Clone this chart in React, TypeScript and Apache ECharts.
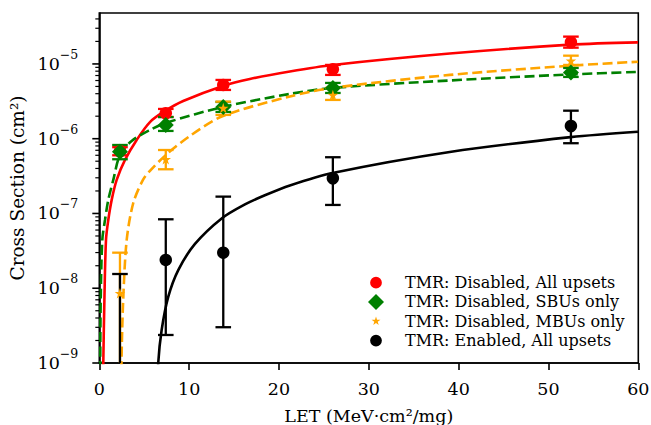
import React, { useEffect, useRef } from 'react';
import * as echarts from 'echarts';

const FONT = 'DejaVu Serif';

// Measured LET values (MeV·cm²/mg)
const LET = [2.3, 7.4, 13.8, 26.0, 52.5];

// TMR: Disabled, All upsets
const allUpsets = [6.8e-7, 2.19e-6, 5.24e-6, 8.49e-6, 1.95e-5];
const allUpsetsLow = [6.0e-7, 1.95e-6, 4.49e-6, 7.13e-6, 1.65e-5];
const allUpsetsHigh = [7.7e-7, 2.5e-6, 6.11e-6, 9.7e-6, 2.32e-5];

// TMR: Disabled, SBUs only
const sbu = [6.7e-7, 1.53e-6, 2.66e-6, 4.78e-6, 7.66e-6];
const sbuLow = [5.31e-7, 1.27e-6, 2.28e-6, 4.09e-6, 6.7e-6];
const sbuHigh = [8.24e-7, 1.95e-6, 3.1e-6, 5.57e-6, 8.83e-6];

// TMR: Disabled, MBUs only
const mbu = [8.55e-9, 5.31e-7, 2.58e-6, 3.85e-6, 1.1e-5];
const mbuLow = [1e-10, 3.9e-7, 2.08e-6, 3.3e-6, 9.7e-6];
const mbuHigh = [2.99e-8, 7.06e-7, 3.13e-6, 4.78e-6, 1.29e-5];

// TMR: Enabled, All upsets
const tmr = [3e-10, 2.39e-8, 2.99e-8, 2.96e-7, 1.48e-6];
const tmrLow = [1e-11, 2.37e-9, 3.01e-9, 1.3e-7, 8.7e-7];
const tmrHigh = [1.55e-8, 8.36e-8, 1.68e-7, 5.65e-7, 2.37e-6];

// Fitted curves
const redFitLET = [0.41, 0.445, 0.567, 0.745, 1.001, 1.379, 1.935, 2.86, 4.16, 5.64, 7.31, 9.34, 13.76, 16.76, 21.21, 25.99, 39.01, 52.47, 59.96];
const redFit = [3.2e-10, 1e-9, 6.97e-9, 4.42e-8, 8.18e-8, 1.52e-7, 2.81e-7, 5.2e-7, 9.62e-7, 1.67e-6, 2.35e-6, 3.2e-6, 5.08e-6, 6.3e-6, 7.94e-6, 9.7e-6, 1.38e-5, 1.81e-5, 1.94e-5];

const greenFitLET = [0.078, 0.1, 0.156, 0.334, 0.634, 1.001, 1.557, 2.3, 3.6, 5.64, 7.42, 13.76, 21.21, 25.99, 39.01, 52.47, 59.96];
const greenFit = [3.2e-10, 1e-9, 6.97e-9, 4.42e-8, 8.18e-8, 1.52e-7, 2.81e-7, 6.07e-7, 9.33e-7, 1.31e-6, 1.63e-6, 2.66e-6, 3.97e-6, 4.78e-6, 6.01e-6, 7.24e-6, 7.82e-6];

const orangeFitLET = [2.45, 2.47, 2.66, 3.05, 3.78, 4.86, 5.64, 7.42, 10.09, 13.76, 21.21, 25.99, 39.01, 52.47, 59.96];
const orangeFit = [3.2e-10, 1e-9, 6.97e-9, 4.42e-8, 1.38e-7, 2.81e-7, 3.71e-7, 6.07e-7, 1.09e-6, 2.01e-6, 3.67e-6, 4.78e-6, 7.13e-6, 9.48e-6, 1.07e-5];

const blackFitLET = [6.48, 6.56, 6.94, 7.68, 8.79, 10.65, 13.62, 16.21, 18.43, 21.21, 25.96, 39.01, 52.47, 59.96];
const blackFit = [3.2e-10, 1e-9, 2.76e-9, 7.71e-9, 1.75e-8, 3.91e-8, 8.57e-8, 1.32e-7, 1.75e-7, 2.37e-7, 3.48e-7, 6.65e-7, 1.05e-6, 1.24e-6];

// Axis ticks
const xTicks = { min: 0, max: 60, interval: 10 };
const yMin = 1e-9;
const yMax = 4.8e-5;
const yMajorTicks = [1e-9, 1e-8, 1e-7, 1e-6, 1e-5];
const minorMultipliers = [2, 3, 4, 5, 6, 7, 8, 9];

const NAMES = [
  'TMR: Disabled, All upsets',
  'TMR: Disabled, SBUs only',
  'TMR: Disabled, MBUs only',
  'TMR: Enabled, All upsets',
];

const RED = '#ff0000';
const GREEN = '#008000';
const ORANGE = '#ffa500';
const BLACK = '#000000';

const STAR_D =
  'M50,0 L61.2,34.5 L97.6,34.5 L68.2,55.9 L79.4,90.5 L50,69.1 L20.6,90.5 L31.8,55.9 L2.4,34.5 L38.8,34.5 Z';
const STAR = 'path://' + STAR_D;
// legend icons: the invisible corner points only widen the box the icon is fitted into
const pad = (d: string, p: number) =>
  'path://M' + -p + ',' + -p + ' L' + -p + ',' + (-p + 0.01) + ' Z M' + (100 + p) + ',' + (100 + p) + ' L' + (100 + p) + ',' + (100 + p - 0.01) + ' Z ' + d;
const CIRCLE_D = 'M50,0 A50,50 0 1,1 50,100 A50,50 0 1,1 50,0 Z';
const LEGEND_CIRCLE = pad(CIRCLE_D, 18);
const LEGEND_STAR = pad(STAR_D, 36);
const LEGEND_DIAMOND = 'path://M50,0 L100,50 L50,100 L0,50 Z';

function pairs(xs: number[], ys: number[]) {
  return xs.map((x, i) => [x, ys[i]]);
}

function curve(xs: number[], ys: number[], color: string, dashed: boolean) {
  return {
    type: 'line',
    data: pairs(xs, ys),
    showSymbol: false,
    symbol: 'none',
    smooth: 0.3,
    clip: true,
    silent: true,
    lineStyle: { color, width: 2.6, type: dashed ? [10, 4.5] : 'solid', cap: 'butt' },
    z: 2,
  };
}

function errorBars(lows: number[], highs: number[], color: string) {
  return {
    type: 'custom',
    coordinateSystem: 'cartesian2d',
    clip: true,
    silent: true,
    data: LET.map((x, i) => [x, lows[i], highs[i]]),
    encode: { x: 0, y: [1, 2] },
    renderItem: (_p: any, api: any) => {
      const x = api.value(0);
      const lo = api.coord([x, api.value(1)]);
      const hi = api.coord([x, api.value(2)]);
      const cap = 7.8;
      const st = { stroke: color, lineWidth: 2.3 };
      return {
        type: 'group',
        children: [
          { type: 'line', shape: { x1: lo[0], y1: lo[1], x2: hi[0], y2: hi[1] }, style: st },
          { type: 'line', shape: { x1: lo[0] - cap, y1: lo[1], x2: lo[0] + cap, y2: lo[1] }, style: st },
          { type: 'line', shape: { x1: hi[0] - cap, y1: hi[1], x2: hi[0] + cap, y2: hi[1] }, style: st },
        ],
      };
    },
    z: 3,
  };
}

function points(name: string, ys: number[], color: string, symbol: string, size: number) {
  return {
    type: 'scatter',
    name,
    data: pairs(LET, ys),
    symbol,
    symbolSize: size,
    clip: true,
    itemStyle: { color, opacity: 1, borderWidth: 0 },
    z: 4,
  };
}

export default function App() {
  const ref = useRef<HTMLDivElement>(null);

  useEffect(() => {
    const chart = echarts.init(ref.current!, null, { renderer: 'svg' });

    const yTickData: number[][] = [];
    yMajorTicks.forEach((v) => yTickData.push([0, v, 1]));
    yMajorTicks.forEach((v) =>
      minorMultipliers.forEach((m) => {
        const t = v * m;
        if (t < yMax) yTickData.push([0, t, 0]);
      })
    );

    const option: any = {
      animation: false,
      backgroundColor: '#ffffff',
      grid: {
        left: 99.3,
        right: 12.7,
        top: 13,
        bottom: 62,
        show: true,
        borderColor: '#000',
        borderWidth: 1.6,
        backgroundColor: 'transparent',
        containLabel: false,
        outerBoundsMode: 'none',
      },
      xAxis: {
        type: 'value',
        min: xTicks.min,
        max: xTicks.max,
        interval: xTicks.interval,
        axisLine: { show: true, lineStyle: { color: '#000', width: 1.6 } },
        axisTick: { show: true, inside: false, length: 7, lineStyle: { color: '#000', width: 1.6 } },
        axisLabel: { margin: 17, fontFamily: FONT, fontSize: 17.5, color: '#000' },
        splitLine: { show: false },
        name: 'LET (MeV·cm²/mg)',
        nameLocation: 'middle',
        nameGap: 44,
        nameTextStyle: { fontFamily: FONT, fontSize: 17.5, color: '#000' },
      },
      yAxis: {
        type: 'log',
        logBase: 10,
        min: yMin,
        max: yMax,
        axisLine: { show: true, lineStyle: { color: '#000', width: 1.6 } },
        axisTick: { show: false },
        minorTick: { show: false },
        splitLine: { show: false },
        axisLabel: {
          margin: 21,
          formatter: (v: number) => {
            const e = Math.log10(v);
            if (Math.abs(e - Math.round(e)) > 1e-6) return '';
            return '{b|10}{s|\u2212' + String(-Math.round(e)) + '}';
          },
          rich: {
            b: { fontFamily: FONT, fontSize: 17.5, color: '#000', lineHeight: 18, verticalAlign: 'bottom' },
            s: {
              fontFamily: FONT,
              fontSize: 12.5,
              color: '#000',
              lineHeight: 12,
              padding: [0, 0, 12, 0],
              verticalAlign: 'bottom',
            },
          },
        },
        name: 'Cross Section (cm²)',
        nameLocation: 'middle',
        nameGap: 68,
        nameTextStyle: { fontFamily: FONT, fontSize: 18.5, color: '#000' },
      },
      legend: {
        orient: 'vertical',
        left: 368,
        top: 273,
        padding: 0,
        itemWidth: 16,
        itemHeight: 16,
        itemGap: 0,
        selectedMode: false,
        textStyle: { fontFamily: FONT, fontSize: 16, color: '#000', lineHeight: 19.3, padding: [0, 0, 0, 16] },
        data: [
          { name: NAMES[0], icon: LEGEND_CIRCLE },
          { name: NAMES[1], icon: LEGEND_DIAMOND },
          { name: NAMES[2], icon: LEGEND_STAR },
          { name: NAMES[3], icon: LEGEND_CIRCLE },
        ],
      },
      series: [
        // y-axis ticks (major and log minor)
        {
          type: 'custom',
          coordinateSystem: 'cartesian2d',
          clip: false,
          silent: true,
          data: yTickData,
          encode: { x: 0, y: 1 },
          renderItem: (_p: any, api: any) => {
            const pt = api.coord([0, api.value(1)]);
            const major = api.value(2) === 1;
            const len = major ? 7 : 4;
            return {
              type: 'line',
              shape: { x1: pt[0] - len, y1: pt[1], x2: pt[0], y2: pt[1] },
              style: { stroke: '#000', lineWidth: major ? 1.6 : 1.2 },
            };
          },
          z: 5,
        },
        curve(redFitLET, redFit, RED, false),
        curve(greenFitLET, greenFit, GREEN, true),
        curve(orangeFitLET, orangeFit, ORANGE, true),
        curve(blackFitLET, blackFit, BLACK, false),
        errorBars(allUpsetsLow, allUpsetsHigh, RED),
        points(NAMES[0], allUpsets, RED, 'circle', 12.5),
        errorBars(sbuLow, sbuHigh, GREEN),
        points(NAMES[1], sbu, GREEN, 'diamond', 16),
        errorBars(mbuLow, mbuHigh, ORANGE),
        points(NAMES[2], mbu, ORANGE, STAR, 10.5),
        errorBars(tmrLow, tmrHigh, BLACK),
        points(NAMES[3], tmr, BLACK, 'circle', 12.5),
      ],
    };

    chart.setOption(option);
    return () => chart.dispose();
  }, []);

  return <div ref={ref} style={{ position: 'absolute', left: 0, top: 0, width: 651, height: 425 }} />;
}
